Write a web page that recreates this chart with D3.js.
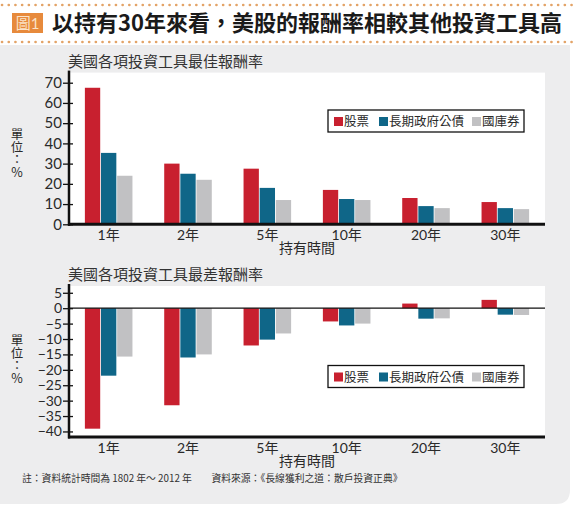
<!doctype html>
<html lang="zh-Hant">
<head>
<meta charset="utf-8">
<title>美股報酬率</title>
<script src="https://d3js.org/d3.v7.min.js"></script>
<style>
  html, body { margin: 0; padding: 0; background: #fff; }
  svg { display: block; }
  text { font-family: Lato, "Noto Sans CJK TC", sans-serif; fill: #2a2a2a; }
  .unit { writing-mode: vertical-rl; text-orientation: upright; }
</style>
</head>
<body>
<div id="chart"></div>
<script>
// data
var periods = ["1年", "2年", "5年", "10年", "20年", "30年"];
var seriesNames = ["股票", "長期政府公債", "國庫券"];
var seriesColors = ["#c8202f", "#0f6688", "#c1c1c3"];
var bestStock = [67.5, 30, 27.5, 17, 13, 11];
var bestBond = [35.3, 25, 18, 12.5, 9, 8];
var bestBill = [24, 22, 12, 12, 8, 7.5];
var worstStock = [-39.1, -31.5, -12.1, -4.3, 1.5, 2.7];
var worstBond = [-21.9, -16, -10.2, -5.6, -3.4, -2.1];
var worstBill = [-15.7, -15, -8.2, -5, -3.3, -2.2];
var bestTicks = [0, 10, 20, 30, 40, 50, 60, 70];
var worstTicks = [5, 0, -5, -10, -15, -20, -25, -30, -35, -40];

var W = 576, H = 512;
var svg = d3.select("#chart").append("svg")
    .attr("width", W)
    .attr("height", H);

// header
var dots = [5, 42];
dots.forEach(function (y) {
    svg.append("line")
        .attr("x1", 2).attr("x2", W - 2)
        .attr("y1", y).attr("y2", y)
        .attr("stroke", "#e3a367")
        .attr("stroke-width", 2.6)
        .attr("stroke-linecap", "round")
        .attr("stroke-dasharray", "0.1,6.6");
});
svg.append("rect")
    .attr("x", 12).attr("y", 13)
    .attr("width", 31).attr("height", 20)
    .attr("fill", "#e78a3c");
svg.append("text")
    .attr("x", 27.5).attr("y", 28.5)
    .attr("text-anchor", "middle")
    .style("font-size", "15px")
    .style("fill", "#fbe3c8")
    .text("圖1");
svg.append("text")
    .attr("x", 52).attr("y", 31)
    .attr("textLength", 510)
    .style("font-family", "'Noto Sans CJK TC'")
    .style("font-weight", 700)
    .style("font-size", "22px")
    .style("fill", "#1a1a1a")
    .text("以持有30年來看，美股的報酬率相較其他投資工具高");

// grey panel with rounded bottom-right corner
svg.append("path")
    .attr("d", "M0,45 H570 V490 Q570,504 556,504 H0 Z")
    .attr("fill", "#ededee");

var x = d3.scaleBand()
    .domain(periods)
    .range([69, 545])
    .paddingInner(0.38)
    .paddingOuter(0.19);

var xs = d3.scaleBand()
    .domain(seriesNames)
    .range([0, x.bandwidth()])
    .padding(0.05);

function drawPanel(opt) {
    var g = svg.append("g");
    var y = d3.scaleLinear().domain(opt.domain).range([opt.bottom, opt.top]);

    g.append("text")
        .attr("x", 68).attr("y", opt.titleY)
        .style("font-family", "'Noto Sans CJK TC'")
        .style("font-size", "15px")
        .style("fill", "#333")
        .text(opt.title);

    g.append("rect")
        .attr("x", 69).attr("y", opt.top)
        .attr("width", 545 - 69).attr("height", opt.bottom - opt.top)
        .attr("fill", "#fff");

    var rows = periods.map(function (p, i) {
        return { period: p, values: opt.series.map(function (s) { return s[i]; }) };
    });

    var groups = g.selectAll(".grp")
        .data(rows)
        .enter().append("g")
        .attr("class", "grp")
        .attr("transform", function (d) { return "translate(" + x(d.period) + ",0)"; });

    groups.selectAll("rect")
        .data(function (d) {
            return d.values.map(function (v, k) { return { name: seriesNames[k], v: v, k: k }; });
        })
        .enter().append("rect")
        .attr("x", function (d) { return xs(d.name); })
        .attr("width", xs.bandwidth())
        .attr("y", function (d) { return y(Math.max(0, d.v)); })
        .attr("height", function (d) { return Math.abs(y(d.v) - y(0)); })
        .attr("fill", function (d) { return seriesColors[d.k]; });

    if (opt.zeroLine) {
        g.append("line")
            .attr("x1", 69).attr("x2", 545)
            .attr("y1", y(0)).attr("y2", y(0))
            .attr("stroke", "#111").attr("stroke-width", 1.3);
    }

    // y axis
    var yAxis = g.append("g")
        .attr("transform", "translate(69,0)")
        .call(d3.axisLeft(y).tickValues(opt.ticks).tickSize(6).tickPadding(1));
    yAxis.select(".domain").remove();
    yAxis.selectAll(".tick line").attr("x2", 4).attr("x1", -6).attr("stroke", "#111").attr("stroke-width", 1.3);
    yAxis.selectAll(".tick text")
        .style("font-size", opt.tickFont)
        .style("fill", "#2a2a2a");
    g.append("line")
        .attr("x1", 69).attr("x2", 69)
        .attr("y1", opt.top - 2).attr("y2", opt.bottom + 1.5)
        .attr("stroke", "#111").attr("stroke-width", 2.5);

    // bottom axis
    var xAxis = g.append("g")
        .attr("transform", "translate(0," + opt.bottom + ")")
        .call(d3.axisBottom(x).tickSize(0).tickPadding(6));
    xAxis.select(".domain").remove();
    xAxis.selectAll(".tick text")
        .style("font-size", "14px")
        .style("fill", "#2a2a2a");
    g.append("line")
        .attr("x1", 68).attr("x2", 545)
        .attr("y1", opt.bottom).attr("y2", opt.bottom)
        .attr("stroke", "#111").attr("stroke-width", 3);

    g.append("text")
        .attr("x", 307).attr("y", opt.bottom + 28.5)
        .attr("text-anchor", "middle")
        .style("font-family", "'Noto Sans CJK TC'")
        .style("font-size", "14px")
        .text("持有時間");

    // unit label, vertical
    g.append("text")
        .attr("class", "unit")
        .attr("x", 17)
        .attr("y", opt.unitY)
        .style("font-family", "'Noto Sans CJK TC'")
        .style("font-size", "12.5px")
        .text("單位：%");

    // legend
    var lg = g.append("g").attr("transform", "translate(328," + opt.legendY + ")");
    lg.append("rect")
        .attr("width", 196).attr("height", 22)
        .attr("fill", "#fff")
        .attr("stroke", "#111").attr("stroke-width", 1.3);
    var lx = [6, 51, 144];
    var item = lg.selectAll(".item")
        .data(seriesNames)
        .enter().append("g")
        .attr("class", "item")
        .attr("transform", function (d, i) { return "translate(" + lx[i] + ",0)"; });
    item.append("rect")
        .attr("x", 0).attr("y", 7)
        .attr("width", 9).attr("height", 9)
        .attr("fill", function (d, i) { return seriesColors[i]; });
    item.append("text")
        .attr("x", 10).attr("y", 16)
        .style("font-family", "'Noto Sans CJK TC'")
        .style("font-size", "12.5px")
        .text(function (d) { return d; });
}

drawPanel({
    title: "美國各項投資工具最佳報酬率",
    titleY: 67,
    domain: [0, 75],
    top: 72.6,
    bottom: 224.3,
    ticks: bestTicks,
    tickFont: "15px",
    series: [bestStock, bestBond, bestBill],
    zeroLine: false,
    unitY: 128,
    legendY: 110
});

drawPanel({
    title: "美國各項投資工具最差報酬率",
    titleY: 280,
    domain: [-41.8, 7.2],
    top: 286,
    bottom: 437,
    ticks: worstTicks,
    tickFont: "14px",
    series: [worstStock, worstBond, worstBill],
    zeroLine: true,
    unitY: 334,
    legendY: 365.5
});

svg.append("text")
    .attr("x", 22).attr("y", 482)
    .style("font-family", "'Noto Sans CJK TC'")
    .style("font-size", "9.8px")
    .style("fill", "#333")
    .text("註：資料統計時間為 1802 年～ 2012 年　　資料來源：《長線獲利之道：散戶投資正典》");
</script>
</body>
</html>
